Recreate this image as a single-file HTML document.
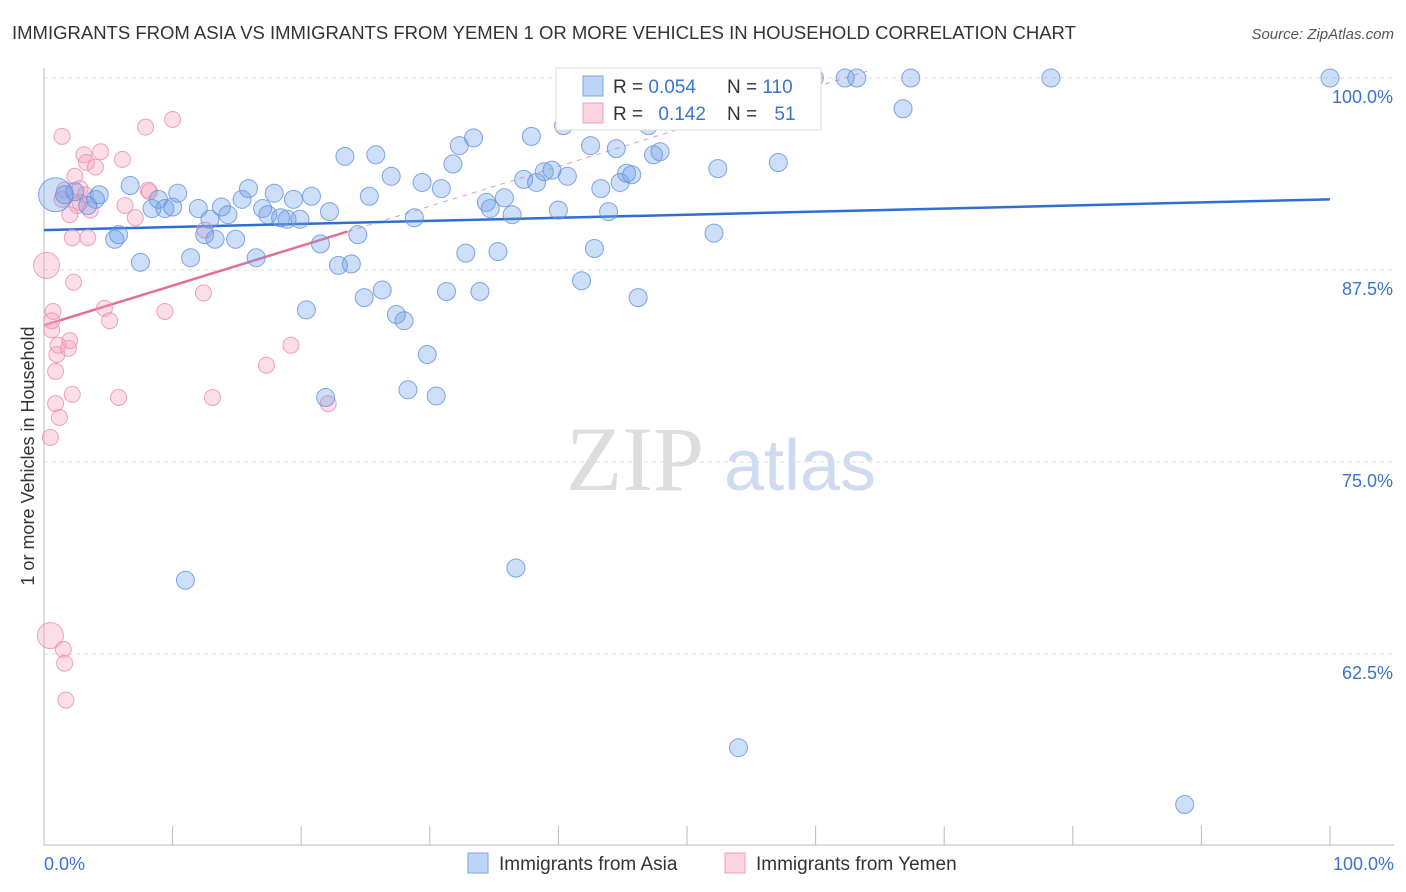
<!DOCTYPE html>
<html><head><meta charset="utf-8">
<style>
body{margin:0;background:#fff;font-family:"Liberation Sans",sans-serif;}
svg{display:block}
</style></head>
<body>
<svg id="chart" width="1406" height="892" xmlns="http://www.w3.org/2000/svg">
<text x="12" y="39" font-size="18.5" fill="#333">IMMIGRANTS FROM ASIA VS IMMIGRANTS FROM YEMEN 1 OR MORE VEHICLES IN HOUSEHOLD CORRELATION CHART</text>
<text x="1394" y="39" font-size="15" fill="#555" text-anchor="end" font-style="italic">Source: ZipAtlas.com</text>
<text transform="translate(34,456) rotate(-90)" font-size="18" fill="#333" text-anchor="middle">1 or more Vehicles in Household</text>
<g id="grid"></g>
<g id="watermark">
<text x="635" y="490" font-size="92" fill="#ddd" font-family="Liberation Serif,serif" text-anchor="middle">ZIP</text>
<text x="800" y="490" font-size="72" fill="#cfdcf0" text-anchor="middle">atlas</text>
</g>
<g id="axes"></g>
<g id="trend"></g>
<g id="pts"></g>
<g>
<rect x="556" y="68" width="265" height="62" fill="#fff" stroke="#ddd"/>
<rect x="583" y="76" width="20" height="20" fill="rgba(110,160,235,0.45)" stroke="#7aa3e0"/>
<rect x="583" y="103" width="20" height="20" fill="rgba(245,160,190,0.45)" stroke="#eea0bb"/>
<text x="613" y="93" font-size="19" fill="#333">R = <tspan fill="#3b73d1">0.054</tspan></text>
<text x="727" y="93" font-size="19" fill="#333">N = <tspan fill="#3b73d1">110</tspan></text>
<text x="613" y="120" font-size="19" fill="#333">R = <tspan fill="#3b73d1" dx="10">0.142</tspan></text>
<text x="727" y="120" font-size="19" fill="#333">N = <tspan fill="#3b73d1" dx="12">51</tspan></text>
</g>
<g>
<rect x="468" y="853" width="20" height="20" fill="rgba(110,160,235,0.45)" stroke="#7aa3e0"/>
<text x="499" y="870" font-size="19" fill="#333">Immigrants from Asia</text>
<rect x="725" y="853" width="20" height="20" fill="rgba(245,160,190,0.45)" stroke="#eea0bb"/>
<text x="756" y="870" font-size="19" fill="#333">Immigrants from Yemen</text>
</g>
</svg>
<script>
const blueX=[0.9,1.6,2.4,4.0,4.3,3.4,5.5,5.8,6.7,7.5,8.4,8.9,9.4,10.0,10.4,11.0,11.4,12.0,12.5,12.9,13.3,13.8,14.3,14.9,15.4,15.9,16.5,17.0,17.4,17.9,18.4,18.9,19.4,19.9,20.4,20.8,21.5,21.9,22.2,22.9,23.4,23.9,24.4,24.9,25.3,25.8,26.3,27.0,27.4,28.0,28.3,28.8,29.4,29.8,30.5,30.9,31.3,31.8,32.3,32.8,33.4,33.9,34.4,34.7,35.3,35.8,36.4,36.7,37.3,37.9,38.3,38.9,39.5,40.0,40.4,40.7,41.8,42.5,42.8,43.3,43.9,44.5,44.8,45.3,45.7,46.2,47.0,47.4,47.9,52.1,52.4,53.1,54.0,57.1,59.9,62.3,63.2,66.8,67.4,78.3,88.7,100];
const blueY=[92.4,92.4,92.6,92.1,92.4,91.7,89.5,89.8,93.0,88.0,91.5,92.1,91.5,91.6,92.5,67.3,88.3,91.5,89.8,90.8,89.5,91.6,91.1,89.5,92.1,92.8,88.3,91.5,91.1,92.5,90.9,90.8,92.1,90.8,84.9,92.3,89.2,79.2,91.3,87.8,94.9,87.9,89.8,85.7,92.3,95.0,86.2,93.6,84.6,84.2,79.7,90.9,93.2,82.0,79.3,92.8,86.1,94.4,95.6,88.6,96.1,86.1,91.9,91.5,88.7,92.2,91.1,68.1,93.4,96.2,93.2,93.9,94.0,91.4,96.9,93.6,86.8,95.6,88.9,92.8,91.3,95.4,93.2,93.8,93.7,85.7,96.9,95.0,95.2,89.9,94.1,100,56.4,94.5,100,100,100,98.0,100,100,52.7,100];
const pinkX=[0.2,0.5,0.5,0.6,0.7,0.9,0.9,1.0,1.1,1.2,1.4,1.5,1.6,1.7,1.9,2.0,2.2,2.2,2.3,2.4,2.6,2.8,3.1,3.3,3.6,4.0,4.4,4.7,5.1,5.8,6.1,6.3,7.1,7.9,8.1,8.2,9.4,10.0,12.4,12.5,13.1,17.3,19.2,22.1,1.4,1.6,3.2,2.0,2.8,3.4,0.6];
const pinkY=[87.8,63.7,76.6,83.6,84.8,80.9,78.8,82.0,82.6,77.9,96.2,62.8,61.9,59.5,82.4,82.9,79.4,89.6,86.7,93.6,91.7,92.8,95.0,94.5,91.4,94.2,95.2,85.0,84.2,79.2,94.7,91.7,90.9,96.8,92.7,92.6,84.8,97.3,86.0,90.1,79.2,81.3,82.6,78.8,92.1,92.7,92.4,91.1,91.9,89.6,84.2];
const blueLarge=[0];
const pinkLarge=[0,1];
const yTicks=[100,87.5,75,62.5];
const yTickLabels=["100.0%","87.5%","75.0%","62.5%"];
const blueTrend=[90.1,92.1];
const pinkTrend=[83.9,90.0];
const pinkTrendEnd=23.6;

const X=v=>44+v*12.86;
const Y=v=>78+(100-v)*15.36;
const NS="http://www.w3.org/2000/svg";
function mk(tag,attrs,parent){const e=document.createElementNS(NS,tag);for(const k in attrs)e.setAttribute(k,attrs[k]);parent.appendChild(e);return e;}
const grid=document.getElementById('grid'),axes=document.getElementById('axes'),pts=document.getElementById('pts'),trend=document.getElementById('trend');
yTicks.forEach((t,i)=>{
 const l=mk('line',{x1:44,x2:1394,y1:Y(t),y2:Y(t),stroke:'#ddd','stroke-dasharray':'4,4'},grid);
 
 
 const tx=mk('text',{x:1393,y:Y(t)+25,'font-size':18,fill:'#3b73d1','text-anchor':'end'},axes);
 tx.textContent=yTickLabels[i];
 
 
});
mk('line',{x1:44,x2:44,y1:68,y2:845,stroke:'#bbb'},axes);
mk('line',{x1:44,x2:1394,y1:845,y2:845,stroke:'#bbb'},axes);
for(let i=0;i<=10;i++){
 const t=mk('line',{x1:X(i*10),x2:X(i*10),y1:826,y2:845,stroke:'#bbb'},axes);
 
 
}
const x0=mk('text',{x:44,y:870,'font-size':18,fill:'#3b73d1'},axes);x0.textContent='0.0%';


const x1=mk('text',{x:1394,y:870,'font-size':18,fill:'#3b73d1','text-anchor':'end'},axes);x1.textContent='100.0%';



pinkX.forEach((v,i)=>{
 const c=mk('circle',{cx:X(v),cy:Y(pinkY[i]),r:pinkLarge.includes(i)?13:8,fill:'rgba(245,160,190,0.35)',stroke:'rgba(235,140,175,0.8)','stroke-width':1},pts);
 
 
});
blueX.forEach((v,i)=>{
 const c=mk('circle',{cx:X(v),cy:Y(blueY[i]),r:blueLarge.includes(i)?17:9,fill:'rgba(110,160,235,0.35)',stroke:'rgba(100,145,220,0.8)','stroke-width':1},pts);
 
 
});
const slope=(pinkTrend[1]-pinkTrend[0])/pinkTrendEnd;
const pd=mk('line',{x1:X(pinkTrendEnd),y1:Y(pinkTrend[1]),x2:X(64),y2:Y(pinkTrend[0]+slope*64),stroke:'#e89ab5','stroke-dasharray':'5,5','stroke-width':1},trend);


const bl=mk('line',{x1:X(0),y1:Y(blueTrend[0]),x2:X(100),y2:Y(blueTrend[1]),stroke:'#2f6fd1','stroke-width':2.5},trend);


const pl=mk('line',{x1:X(0),y1:Y(pinkTrend[0]),x2:X(pinkTrendEnd),y2:Y(pinkTrend[1]),stroke:'#e46e9a','stroke-width':2.5},trend);


</script>
</body></html>
